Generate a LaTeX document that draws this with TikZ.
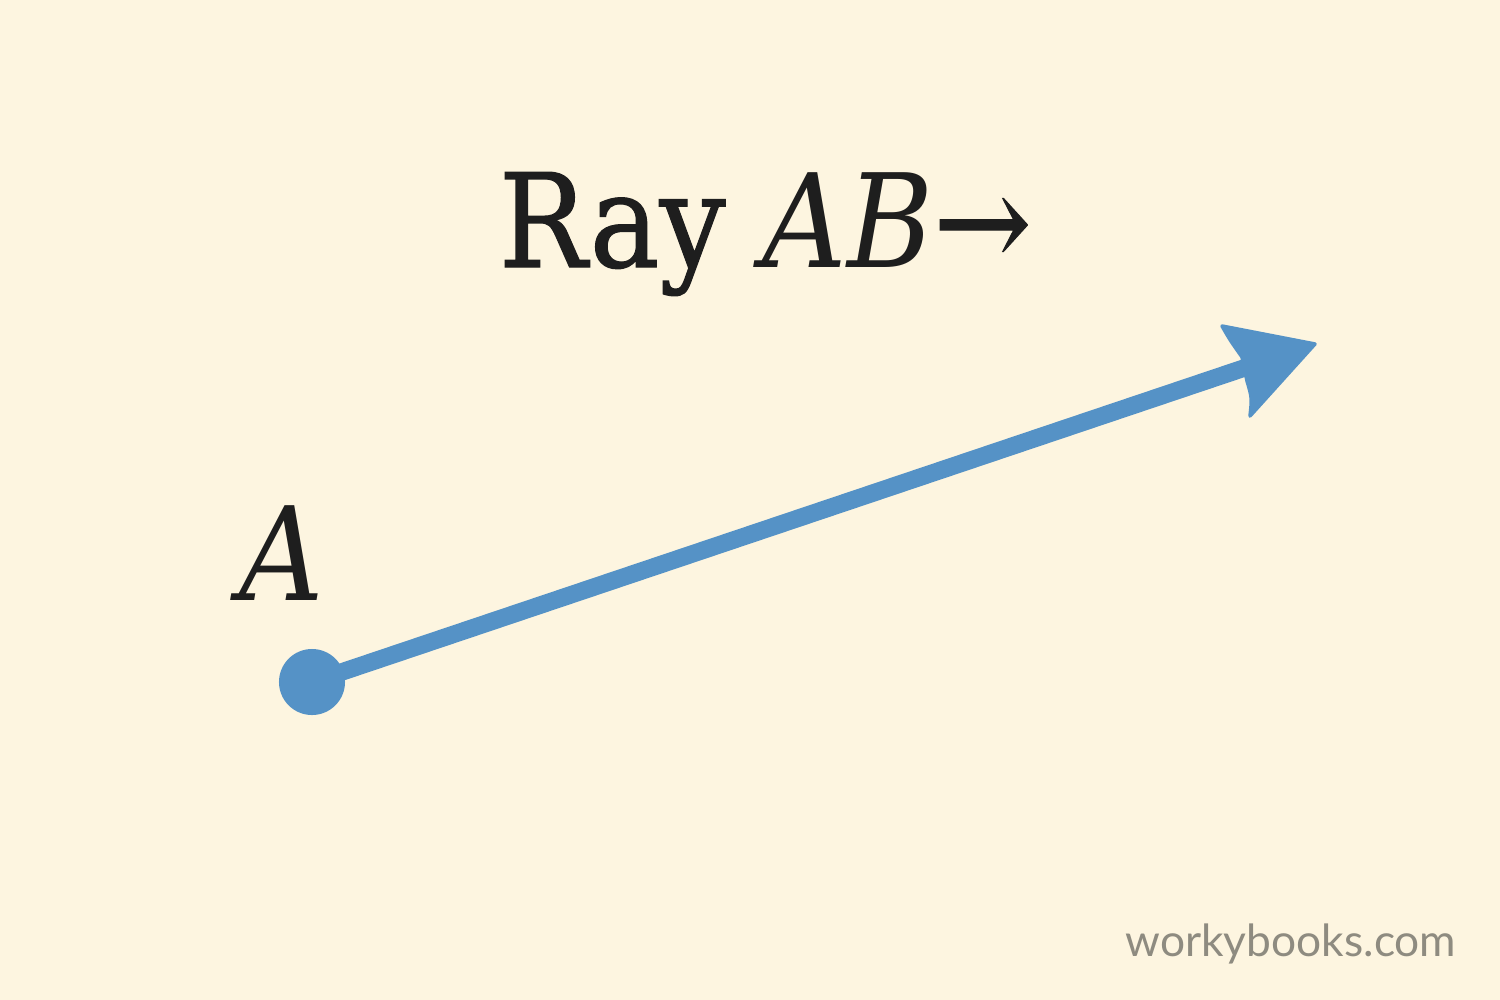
\documentclass[tikz,border=0pt]{standalone}
\usepackage{fontspec}
\setmainfont[FakeBold=0.9]{DejaVu Serif Condensed}
\newfontfamily\labfont[AutoFakeBold=0.9]{DejaVu Serif Condensed}
\newfontfamily\wmfont{Lato}
\definecolor{bgcream}{HTML}{FDF5E0}
\definecolor{rayblue}{HTML}{5592C6}
\definecolor{inkdark}{HTML}{1E1E1E}
\definecolor{wmgray}{HTML}{8E8B80}
\tikzset{
  lbl/.style={inner sep=0pt, text=inkdark, font=\labfont\bfseries\fontsize{37}{37}\selectfont},
  dotnode/.style={circle, fill=rayblue, minimum size=0.66cm, inner sep=0pt},
  raypath/.style={draw=rayblue, line width=0.175cm},
  headshape/.style={fill=rayblue, draw=rayblue, line width=1pt, line join=round},
  wm/.style={inner sep=0pt, text=wmgray, font=\wmfont\fontsize{12.6}{12.6}\selectfont}
}
\begin{document}
\begin{tikzpicture}[x=0.01cm, y=-0.01cm]
  \fill[bgcream] (0,0) rectangle (1500,1000);
  \useasboundingbox (0,0) rectangle (1500,1000);
  \node[lbl, anchor=base west] (title) at (498,267)
    {Ray \textit{AB}→};
  \node[lbl, anchor=base west] (labA) at (239,600) {\textit{A}};
  \node[dotnode] (A) at (312,682) {};
  \coordinate (B) at (1315,344);
  \coordinate (N) at (1262,362);
  \draw[raypath] (A.center) -- (N);
  \path[headshape] (B) -- (1222,326) .. controls (1230,340) .. (1242,357)
     -- (1247,381) .. controls (1252,398) .. (1250,416) -- cycle;
  \node[wm, anchor=base east] (wmark) at (1457,956) {workybooks.com};
\end{tikzpicture}
\end{document}
